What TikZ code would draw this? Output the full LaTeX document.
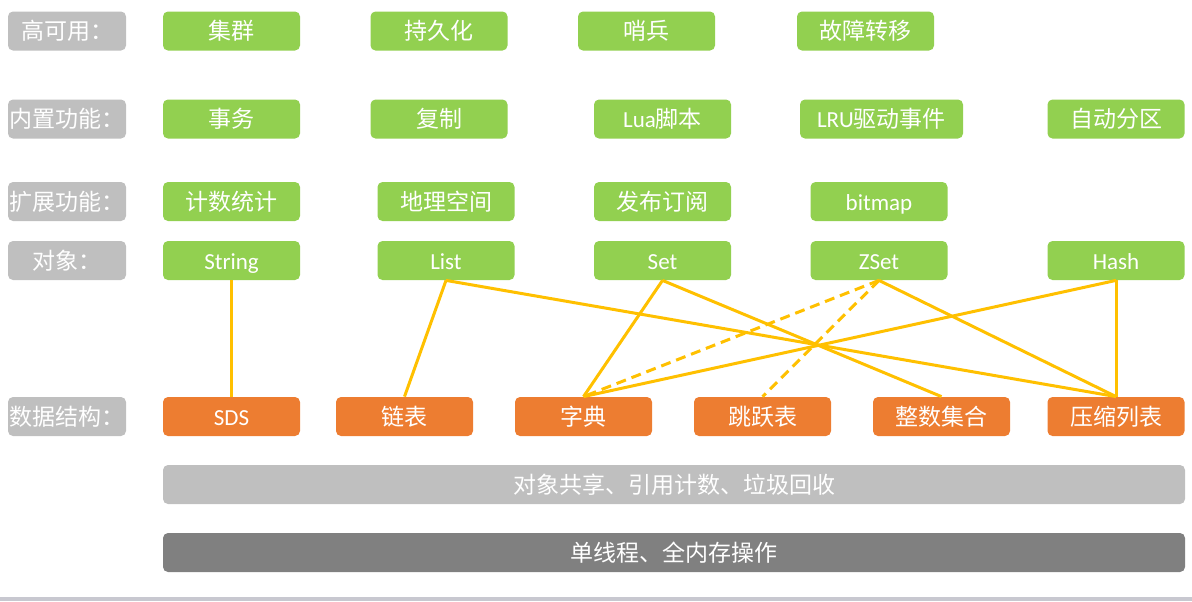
\documentclass[tikz,border=0pt]{standalone}
\usepackage{fontspec}
\setmainfont{Noto Sans CJK SC}
\newfontfamily\latfont{Carlito}
\definecolor{boxgreen}{HTML}{92D050}
\definecolor{boxorange}{HTML}{ED7D31}
\definecolor{labelgray}{HTML}{BFBFBF}
\definecolor{bargray}{HTML}{808080}
\definecolor{linkyellow}{HTML}{FFC000}
\definecolor{rulegray}{HTML}{C8C8D0}
\begin{document}
\begin{tikzpicture}[x=0.5pt, y=-0.5pt,
    box/.style={rectangle, rounded corners=2.5pt, minimum width=68.5pt, minimum height=19.5pt,
                inner sep=0pt, text height=9.5pt, text depth=0.9pt,
                text=white, font=\fontsize{11.5}{13}\selectfont},
    rowlabel/.style={box, fill=labelgray, minimum width=59pt},
    func/.style={box, fill=boxgreen},
    struct/.style={box, fill=boxorange},
    bar/.style={box, minimum width=511pt},
    link/.style={draw=linkyellow, line width=1.5pt}]
    \useasboundingbox (0,0) rectangle (1192,601);

    % row labels
    \node[rowlabel] (ha)     at (67,31)    {高可用：};
    \node[rowlabel] (builtin) at (67,119)  {内置功能：};
    \node[rowlabel] (ext)    at (67,201.5) {扩展功能：};
    \node[rowlabel] (objlbl) at (67,260.5) {对象：};
    \node[rowlabel] (dslbl)  at (67,416.5) {数据结构：};

    % high availability
    \node[func] (cluster)  at (231.5,31) {集群};
    \node[func] (persist)  at (439,31)   {持久化};
    \node[func] (sentinel) at (646.5,31) {哨兵};
    \node[func] (failover) at (865.5,31) {故障转移};

    % built-in functions
    \node[func] (trans)    at (231.5,119) {事务};
    \node[func] (repl)     at (439,119)   {复制};
    \node[func] (lua)      at (662.5,119) {{\latfont Lua}脚本};
    \node[func, minimum width=81.5pt] (lru) at (881.5,119) {{\latfont LRU}驱动事件};
    \node[func] (shard)    at (1116,119)  {自动分区};

    % extensions
    \node[func] (counter)  at (231.5,201.5) {计数统计};
    \node[func] (geo)      at (446,201.5)   {地理空间};
    \node[func] (pubsub)   at (662.5,201.5) {发布订阅};
    \node[func, font=\latfont\fontsize{11.5}{13}\selectfont] (bitmap) at (879,201.5) {bitmap};

    % objects
    \tikzset{obj/.style={func, font=\latfont\fontsize{11.5}{13}\selectfont}}
    \node[obj] (string) at (231.5,260.5) {String};
    \node[obj] (list)   at (446,260.5)   {List};
    \node[obj] (set)    at (662.5,260.5) {Set};
    \node[obj] (zset)   at (879,260.5)   {ZSet};
    \node[obj] (hash)   at (1116,260.5)  {Hash};

    % data structures
    \node[struct, font=\latfont\fontsize{11.5}{13}\selectfont] (sds) at (231.5,416.5) {SDS};
    \node[struct] (linked)   at (404.5,416.5) {链表};
    \node[struct] (dict)     at (583.5,416.5) {字典};
    \node[struct] (skiplist) at (762.5,416.5) {跳跃表};
    \node[struct] (intset)   at (941.5,416.5) {整数集合};
    \node[struct] (ziplist)  at (1116,416.5)  {压缩列表};

    % shared layers
    \node[bar, fill=labelgray] (shared) at (674,484.5) {对象共享、引用计数、垃圾回收};
    \node[bar, fill=bargray]   (single) at (674,552.5) {单线程、全内存操作};

    % object -> structure
    \draw[link] (string.south) -- (sds.north);
    \draw[link] (list.south) -- (linked.north);
    \draw[link] (list.south) -- (ziplist.north);
    \draw[link] (set.south) -- (dict.north);
    \draw[link] (set.south) -- (intset.north);
    \draw[link, dash pattern=on 5pt off 3pt] (zset.south) -- (dict.north);
    \draw[link, dash pattern=on 5pt off 3pt] (zset.south) -- (skiplist.north);
    \draw[link] (zset.south) -- (ziplist.north);
    \draw[link] (hash.south) -- (dict.north);
    \draw[link] (hash.south) -- (ziplist.north);

    \fill[rulegray] (0,597) rectangle (1192,601);
\end{tikzpicture}
\end{document}
